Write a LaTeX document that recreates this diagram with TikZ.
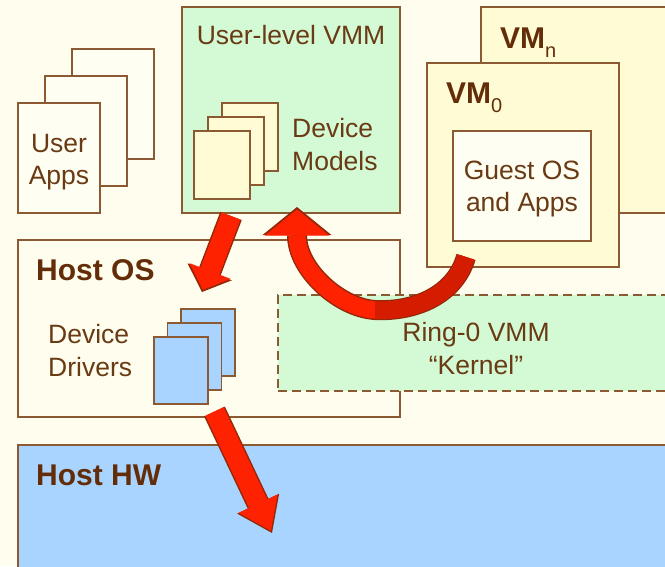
\documentclass[tikz,border=0pt]{standalone}
\usepackage{fontspec}
\setmainfont{Liberation Sans}
\usetikzlibrary{arrows.meta}
\definecolor{bgcream}{RGB}{255,253,237}
\definecolor{edgebrown}{RGB}{140,90,50}
\definecolor{txtbrown}{RGB}{105,58,20}
\definecolor{hdrbrown}{RGB}{100,45,10}
\definecolor{vmmgreen}{RGB}{211,250,212}
\definecolor{vmyellow}{RGB}{255,251,213}
\definecolor{pagewhite}{RGB}{255,254,242}
\definecolor{hwblue}{RGB}{169,212,255}
\definecolor{arrred}{RGB}{255,34,0}
\definecolor{arrback}{RGB}{212,28,0}
\definecolor{arrdark}{RGB}{150,40,10}
\newcommand\vmsub[1]{\raisebox{-9pt}{\fontsize{20}{20}\selectfont\mdseries #1}}
\tikzset{
  box/.style={draw=edgebrown, line width=1.6pt, anchor=north west, inner sep=0pt, outer sep=0pt},
  wh/.style 2 args={minimum width=#1pt, minimum height=#2pt},
  lbl/.style={text=txtbrown, align=center, inner sep=0pt},
  hdr/.style={text=hdrbrown, font=\fontsize{30}{36}\selectfont\bfseries, anchor=base west, inner sep=0pt},
  blockarrow/.style n args={3}{draw=arrred, line width=#1pt, shorten >=2.5pt,
    -{Triangle[width=#2pt,length=#3pt,line width=0pt]},
    preaction={draw=arrdark, line width=#1pt+3pt, shorten >=0pt,
      -{Triangle[width=#2pt,length=#3pt,line width=0pt,scale=1.08]}}}
}
\begin{document}
\begin{tikzpicture}[x=1pt,y=-1pt,font=\fontsize{26.5}{32.5}\selectfont]
	\useasboundingbox (0,0) rectangle (665,566);
	\fill[bgcream] (0,0) rectangle (665,566);
	\clip (0,0) rectangle (665,566);
	% user apps
	\foreach \i in {2,1,0}
		\node[box,fill=pagewhite,wh={82}{110}] (app\i) at (18+27*\i,103-27*\i) {};
	\node[lbl] (apptext) at (59,162) {User\\Apps};
	% user-level VMM
	\node[box,fill=vmmgreen,wh={218}{206}] (vmm) at (182,7) {};
	\node[lbl,anchor=base] (vmmtext) at (291,44) {User-level VMM};
	\foreach \i in {2,1,0}
		\node[box,fill=vmyellow,wh={56}{68}] (model\i) at (194+14*\i,131-14*\i) {};
	\node[lbl,align=left,anchor=west] (modeltext) at (292,144.5) {Device\\Models};
	% VMs
	\node[box,fill=vmyellow,wh={200}{206}] (vmn) at (481,7) {};
	\node[hdr] (vmntext) at (500,48) {VM\vmsub{n}};
	\node[box,fill=vmyellow,wh={192}{204}] (vm0) at (427,63) {};
	\node[hdr] (vm0text) at (446,103) {VM\vmsub{0}};
	\node[box,fill=pagewhite,wh={138}{110}] (guest) at (453,131) {};
	\node[lbl] (guesttext) at (522,189) {Guest OS\\and Apps};
	% host OS
	\node[box,fill=bgcream,wh={382}{177}] (hostos) at (18,240) {};
	\node[hdr] (hostostext) at (36,280) {Host OS};
	\node[lbl,align=left,anchor=west] (drvtext) at (48,350.5) {Device\\Drivers};
	\foreach \i in {2,1,0}
		\node[box,fill=hwblue,wh={54}{67}] (drv\i) at (154+13.5*\i,337-14*\i) {};
	\node[box,fill=vmmgreen,dash pattern=on 9pt off 5pt,wh={400}{96}] (ring0) at (278,295) {};
	\node[lbl] (ring0text) at (476,348.5) {Ring-0 VMM\\“Kernel”};
	% host HW
	\node[box,fill=hwblue,wh={660}{140}] (hosthw) at (18,445) {};
	\node[hdr] (hwtext) at (36,485) {Host HW};
	% arrows
	\draw[blockarrow={20}{44}{20}] ([xshift=-60pt,yshift=-3pt]vmm.south) -- ([xshift=-7pt,yshift=-52pt]hostos.north);
	\draw[blockarrow={20}{43}{30}] ([xshift=6.5pt,yshift=-7.5pt]drv0.south east) -- ([xshift=254pt,yshift=-88pt]hosthw.north west);
	\coordinate (bend) at ([xshift=97pt,yshift=-15pt]ring0.north west);
	\draw[blockarrow={17}{64}{26}] ([xshift=-57pt,yshift=10pt]vm0.south) .. controls (455,295) and (415,312) .. (bend)
		.. controls (340,308) and (297,270) .. ([xshift=6pt,yshift=6pt]vmm.south);
	\draw[arrback,line width=17pt] ([xshift=-57pt,yshift=10pt]vm0.south) .. controls (455,295) and (415,312) .. (bend);
\end{tikzpicture}
\end{document}
